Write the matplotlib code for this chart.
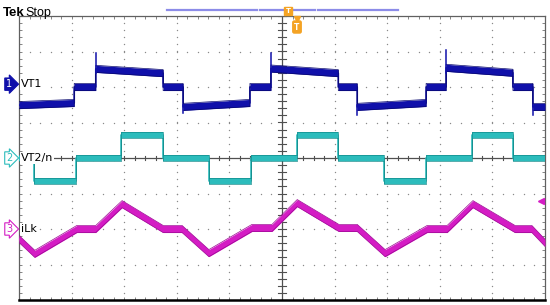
import numpy as np
import matplotlib.pyplot as plt
from matplotlib import transforms
from matplotlib.lines import Line2D

# scope screen is 10 x 8 divisions, every value below is in divisions
vt1_edges = [0.0, 1.05, 1.46, 2.74, 3.12, 4.39, 4.79, 6.07, 6.43, 7.74, 8.12, 9.39, 9.77, 10.0]
vt1_start = [1.49, 2.00, 2.51, 2.00, 1.44, 2.00, 2.52, 2.00, 1.44, 2.00, 2.54, 2.00, 1.44]
vt1_end = [1.55, 2.00, 2.39, 2.00, 1.55, 2.00, 2.39, 2.00, 1.55, 2.00, 2.40, 2.00, 1.44]
vt1_spike_up_t = [1.46, 4.79, 8.12]
vt1_spike_up_v = [2.95, 2.97, 3.04]
vt1_spike_down_t = [3.12, 6.43, 9.77]
vt1_spike_down_v = [1.27, 1.21, 1.21]

vt2_edges = [0.0, 0.29, 1.08, 1.94, 2.74, 3.61, 4.41, 5.29, 6.07, 6.94, 7.74, 8.61, 9.39, 10.0]
vt2_level = [0.0, -0.64, 0.0, 0.64, 0.0, -0.64, 0.0, 0.64, 0.0, -0.64, 0.0, 0.64, 0.0]

ilk_t = [0.0, 0.30, 1.10, 1.46, 1.96, 2.74, 3.10, 3.61, 4.43, 4.81, 5.29, 6.08,
         6.43, 6.96, 7.76, 8.14, 8.63, 9.43, 9.75, 10.0]
ilk_v = [-2.28, -2.70, -2.00, -2.00, -1.30, -2.00, -2.00, -2.68, -1.97, -1.97, -1.27, -1.97,
         -1.97, -2.68, -2.00, -2.00, -1.30, -2.00, -2.00, -2.39]

channel_names = ['VT1', 'VT2/n', 'iLk']
channel_marks = [2.08, 0.0, -2.0]
trig_level = -1.21

blue = '#1010aa'
cyan = '#2cbcbc'
magenta = '#d41cc4'
orange = '#f4a324'


def step_path(edges, start, end):
    t, v = [], []
    for i in range(len(start)):
        t += [edges[i], edges[i + 1]]
        v += [start[i], end[i]]
    return np.array(t), np.array(v)


def band(ax, t, v, h, color, edge):
    ax.fill_between(t, v - h, v + h, color=color, lw=0, zorder=5)
    ax.plot(t, v, color=color, lw=1.2, zorder=5)
    ax.plot(t, v + h, color=edge, lw=0.5, zorder=5)
    ax.plot(t, v - h, color=edge, lw=0.5, zorder=5)


fig = plt.figure(figsize=(5.5, 3.05), dpi=100)
ax = fig.add_axes([19 / 550, 5 / 305, 526 / 550, 284 / 305])
ax.set_xlim(0, 10)
ax.set_ylim(-4, 4)

# graticule dots
for gx in range(1, 10):
    gy = np.arange(-4, 4.01, 0.2)
    ax.scatter(np.full_like(gy, gx), gy, s=1.0, color='#8a8a8a', lw=0, zorder=1)
for gy0 in range(-3, 4):
    gx = np.arange(0, 10.01, 0.2)
    ax.scatter(gx, np.full_like(gx, gy0), s=1.0, color='#8a8a8a', lw=0, zorder=1)

# centre cross with minor ticks
ax.axvline(5, color='#505050', lw=0.9, zorder=2)
ax.axhline(0, color='#505050', lw=0.9, zorder=2)
for tx in np.arange(0, 10.01, 0.2):
    ax.plot([tx, tx], [-0.07, 0.07], color='#505050', lw=0.8, zorder=2)
for ty in np.arange(-4, 4.01, 0.2):
    ax.plot([4.93, 5.07], [ty, ty], color='#505050', lw=0.8, zorder=2)

ax.set_xticks(range(0, 11))
ax.set_yticks(range(-4, 5))
ax.set_xticks(np.arange(0, 10.01, 0.2), minor=True)
ax.set_yticks(np.arange(-4, 4.01, 0.2), minor=True)
ax.tick_params(which='both', direction='in', length=2.5, width=0.6, color='#707070',
               top=True, right=True, labelbottom=False, labelleft=False)
for s in ax.spines.values():
    s.set_color('#606060')
    s.set_linewidth(0.9)
ax.spines['bottom'].set_color('black')
ax.spines['bottom'].set_linewidth(1.8)

# traces
t1, v1 = step_path(vt1_edges, vt1_start, vt1_end)
band(ax, t1, v1, 0.1, blue, '#08086e')
for t, v in zip(vt1_spike_up_t, vt1_spike_up_v):
    ax.plot([t, t], [2.4, v], color=blue, lw=1.1, zorder=5)
for t, v in zip(vt1_spike_down_t, vt1_spike_down_v):
    ax.plot([t, t], [1.5, v], color=blue, lw=1.1, zorder=5)

t2, v2 = step_path(vt2_edges, vt2_level, vt2_level)
band(ax, t2, v2, 0.09, cyan, '#128c8c')

band(ax, np.array(ilk_t), np.array(ilk_v), 0.1, magenta, '#9c0894')

# trigger level arrow
ax.plot([9.93], [trig_level], marker='<', ms=4.5, color=magenta, clip_on=False, zorder=6)
ax.plot([9.93, 10.0], [trig_level, trig_level], color=magenta, lw=1, zorder=6)

# channel markers and labels
mix = transforms.blended_transform_factory(fig.transFigure, ax.transData)
colors = [blue, cyan, magenta]
for i in range(3):
    filled = i == 0
    fig.text(9 / 550, channel_marks[i], str(i + 1), transform=mix, fontsize=7,
             ha='center', va='center', color='white' if filled else colors[i],
             bbox=dict(boxstyle='rarrow,pad=0.12', fc=colors[i] if filled else 'white',
                       ec=colors[i], lw=0.8))
    fig.text(21 / 550, channel_marks[i], channel_names[i], transform=mix, fontsize=8,
             ha='left', va='center', color='black',
             bbox=dict(fc='white', ec='none', pad=0.5))

# header
fig.text(3 / 550, 1 - 16 / 305, 'Tek', fontsize=9.5, fontweight='bold',
         family='Liberation Sans', va='baseline')
fig.text(25 / 550, 1 - 16 / 305, 'Stop', fontsize=9, family='Liberation Sans',
         va='baseline')
for x0, x1 in [(167, 257), (260, 315), (318, 398)]:
    fig.add_artist(Line2D([x0 / 550, x1 / 550], [1 - 10 / 305] * 2, color='#8c8ce8',
                          lw=1.6, transform=fig.transFigure))
fig.text(288 / 550, 1 - 11 / 305, 'T', fontsize=5, color='white', fontweight='bold',
         ha='center', va='center',
         bbox=dict(boxstyle='square,pad=0.15', fc=orange, ec=orange))
fig.add_artist(Line2D([297 / 550], [1 - 19 / 305], marker='v', ms=4, color=orange,
                      transform=fig.transFigure))
fig.text(297 / 550, 1 - 27 / 305, 'T', fontsize=5.5, color='white', fontweight='bold',
         ha='center', va='center',
         bbox=dict(boxstyle='round,pad=0.2', fc=orange, ec=orange))

fig.savefig('out.png', dpi=100)
